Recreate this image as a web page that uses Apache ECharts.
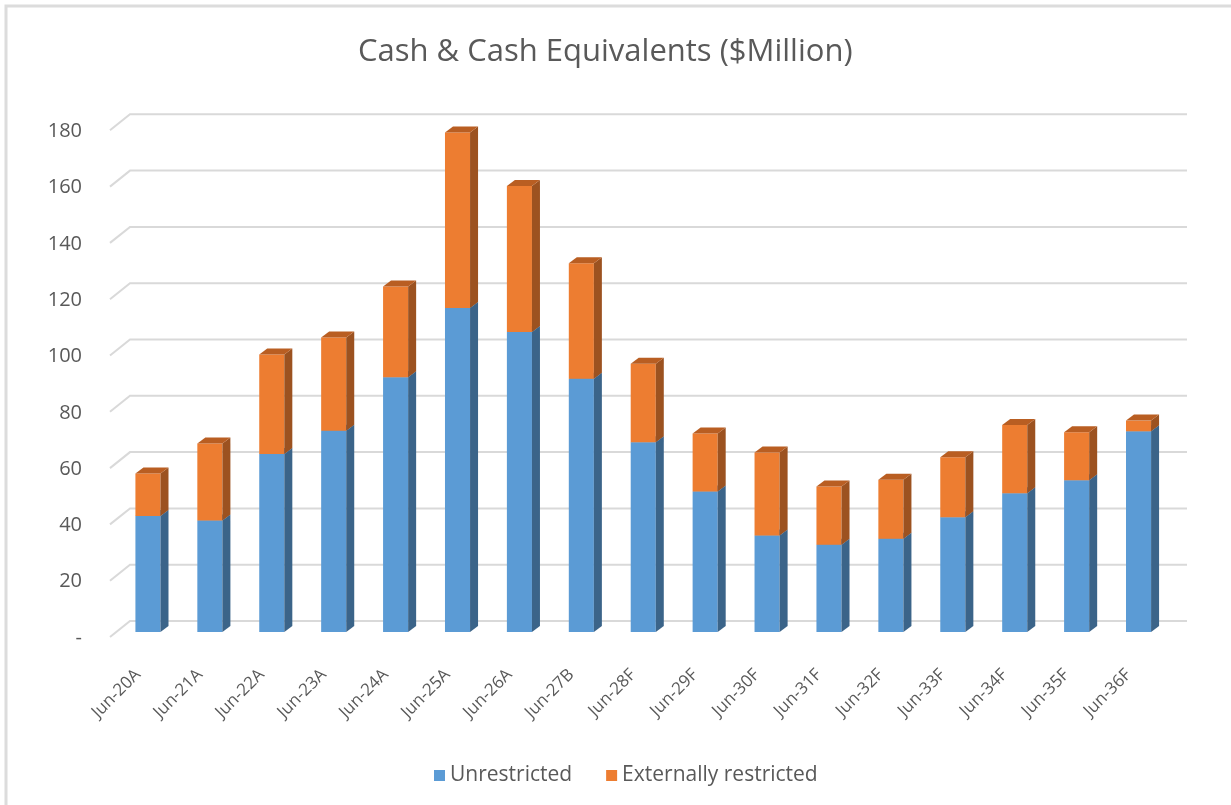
<!DOCTYPE html>
<html>
<head>
<meta charset="utf-8">
<script src="https://cdn.jsdelivr.net/npm/echarts@6/dist/echarts.min.js"></script>
<style>
  html, body { margin: 0; padding: 0; background: #ffffff; }
  #chart { width: 1231px; height: 805px; }
</style>
</head>
<body>
<div id="chart"></div>
<script>
// Fiscal years (A = actual, B = budget, F = forecast)
const categories = ['Jun-20A', 'Jun-21A', 'Jun-22A', 'Jun-23A', 'Jun-24A', 'Jun-25A', 'Jun-26A', 'Jun-27B',
  'Jun-28F', 'Jun-29F', 'Jun-30F', 'Jun-31F', 'Jun-32F', 'Jun-33F', 'Jun-34F', 'Jun-35F', 'Jun-36F'];
// $ million
const unrestricted = [41.2, 39.6, 63.2, 71.5, 90.5, 115.1, 106.6, 90.0, 67.4, 49.9, 34.3, 31.0, 33.1, 40.8, 49.3, 53.9, 71.3];
const externallyRestricted = [15.1, 27.4, 35.4, 33.1, 32.2, 62.3, 51.8, 41.0, 27.9, 20.6, 29.5, 20.7, 21.0, 21.3, 24.2, 17.1, 3.8];
const yTicks = [0, 20, 40, 60, 80, 100, 120, 140, 160, 180];

const TEXT = '#595959';
const FONT = 'Open Sans';

// Pseudo-3D depth of the bars and of the back wall
const BAR_DX = 8, BAR_DY = 6;
const WALL_DX = 20, WALL_DY = 16;
const WALL_FRONT_DROP = 5;   // front edge of the floor sits a little below the bar fronts

const palette = {
  blue:   { front: '#5b9bd5', side: '#3b6489', top: '#4a80b3' },
  orange: { front: '#ed7d31', side: '#9c5220', top: '#b95e22' }
};

// Plot plane of the bar fronts
const PLOT = { left: 117, right: 61.5, top: 125.3, bottom: 173 };

function stackRows(lower, values) {
  return values.map((v, i) => [i, lower ? lower[i] : 0, (lower ? lower[i] : 0) + v]);
}

function makeBarRenderer(colors) {
  return function (params, api) {
    const idx = api.value(0);
    const base = api.coord([idx, api.value(1)]);
    const top = api.coord([idx, api.value(2)]);
    const band = api.size([1, 0])[0];
    const w = band * 0.405;
    const x0 = base[0] - w / 2, x1 = base[0] + w / 2;
    const yb = base[1], yt = top[1];
    return {
      type: 'group',
      children: [
        { type: 'rect', shape: { x: x0, y: yt, width: w, height: yb - yt },
          style: { fill: colors.front } },
        { type: 'polygon', shape: { points: [[x1, yb], [x1 + BAR_DX, yb - BAR_DY], [x1 + BAR_DX, yt - BAR_DY], [x1, yt]] },
          style: { fill: colors.side } },
        { type: 'polygon', shape: { points: [[x0, yt], [x1, yt], [x1 + BAR_DX, yt - BAR_DY], [x0 + BAR_DX, yt - BAR_DY]] },
          style: { fill: colors.top } }
      ]
    };
  };
}

// Gridlines on the back wall, with the diagonal run along the left side wall
function renderGridline(params, api) {
  const cs = params.coordSys;
  const p = api.coord([0, api.value(0)]);
  const yFront = p[1] + WALL_FRONT_DROP;
  const yBack = yFront - WALL_DY;
  const xFront = cs.x - 7;
  const xBack = xFront + WALL_DX;
  const xEnd = cs.x + cs.width + 17.5;
  return {
    type: 'polyline',
    shape: { points: [[xFront, yFront], [xBack, yBack], [xEnd, yBack]] },
    style: { stroke: '#d9d9d9', lineWidth: 2, fill: null }
  };
}

const chart = echarts.init(document.getElementById('chart'), null, { renderer: 'canvas' });

chart.setOption({
  backgroundColor: '#ffffff',
  animation: false,
  title: {
    text: 'Cash & Cash Equivalents ($Million)',
    left: 353,
    top: 32,
    textStyle: { color: TEXT, fontFamily: FONT, fontSize: 31, fontWeight: 'normal' }
  },
  legend: {
    data: ['Unrestricted', 'Externally restricted'],
    top: 760,
    left: 429,
    icon: 'rect',
    itemWidth: 11,
    itemHeight: 11,
    itemGap: 34,
    textStyle: { color: TEXT, fontFamily: FONT, fontSize: 21 }
  },
  grid: [
    // bars
    { left: PLOT.left, right: PLOT.right, top: PLOT.top, bottom: PLOT.bottom },
    // axis labels sit on the front edge of the floor / side wall
    { left: PLOT.left - 10, right: PLOT.right + 10, top: PLOT.top + WALL_FRONT_DROP + 1, bottom: PLOT.bottom - WALL_FRONT_DROP - 1 }
  ],
  xAxis: [
    { type: 'category', gridIndex: 0, data: categories,
      axisLine: { show: false }, axisTick: { show: false }, axisLabel: { show: false } },
    { type: 'category', gridIndex: 1, data: categories,
      axisLine: { show: false }, axisTick: { show: false },
      axisLabel: { rotate: 45, margin: 34, interval: 0, color: TEXT, fontFamily: FONT, fontSize: 17 } }
  ],
  yAxis: [
    { type: 'value', gridIndex: 0, min: 0, max: 180, interval: 20,
      axisLine: { show: false }, axisTick: { show: false }, splitLine: { show: false }, axisLabel: { show: false } },
    { type: 'value', gridIndex: 1, min: 0, max: 180, interval: 20,
      axisLine: { show: false }, axisTick: { show: false }, splitLine: { show: false },
      axisLabel: {
        margin: 25,
        color: TEXT,
        fontFamily: FONT,
        fontSize: 20,
        formatter: v => (v === 0 ? '-' : String(v))
      } }
  ],
  graphic: [
    { type: 'polyline', silent: true, z: 100,
      shape: { points: [[6, 810], [6, 6], [1240, 6]] },
      style: { stroke: '#dcdcdc', lineWidth: 3, fill: null } }
  ],
  series: [
    {
      name: 'gridlines',
      type: 'custom',
      silent: true,
      z: 0,
      renderItem: renderGridline,
      encode: { y: 0 },
      data: yTicks.map(v => [v])
    },
    {
      name: 'Unrestricted',
      type: 'custom',
      z: 2,
      itemStyle: { color: palette.blue.front },
      renderItem: makeBarRenderer(palette.blue),
      encode: { x: 0, y: [1, 2] },
      data: stackRows(null, unrestricted)
    },
    {
      name: 'Externally restricted',
      type: 'custom',
      z: 3,
      itemStyle: { color: palette.orange.front },
      renderItem: makeBarRenderer(palette.orange),
      encode: { x: 0, y: [1, 2] },
      data: stackRows(unrestricted, externallyRestricted)
    }
  ]
});
</script>
</body>
</html>
